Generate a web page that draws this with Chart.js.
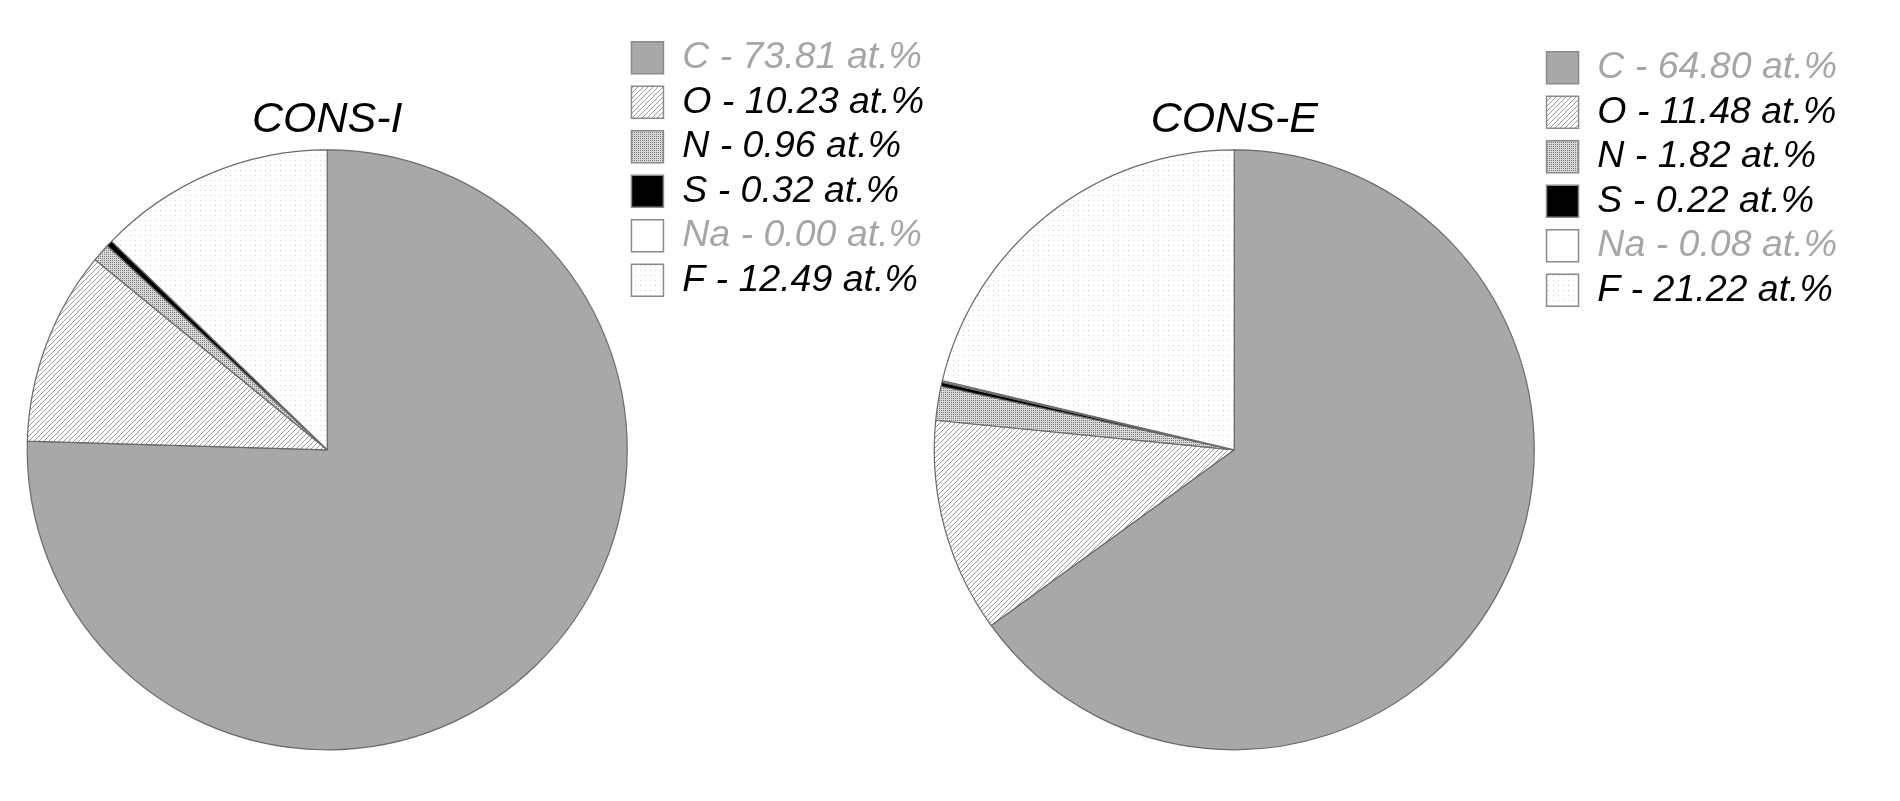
<!DOCTYPE html>
<html>
<head>
<meta charset="utf-8">
<script src="https://cdn.jsdelivr.net/npm/chart.js@4.4.1/dist/chart.umd.min.js"></script>
<style>
  html, body { margin: 0; padding: 0; background: #fff; }
  body { width: 1900px; height: 801px; position: relative; overflow: hidden; }
  .box { position: absolute; top: 0; height: 801px; }
  #box-i { left: 0; width: 934px; }
  #box-e { left: 913px; width: 934px; }
</style>
</head>
<body>
<div class="box" id="box-i"><canvas id="chart-i"></canvas></div>
<div class="box" id="box-e"><canvas id="chart-e"></canvas></div>
<script>
const elements = ['C', 'O', 'N', 'S', 'Na', 'F'];
const consI = [73.81, 10.23, 0.96, 0.32, 0.00, 12.49];
const consE = [64.80, 11.48, 1.82, 0.22, 0.08, 21.22];
const unit = 'at.%';

const FONT = "'Liberation Sans', Arial, sans-serif";
// C and Na labels are printed in grey in the original figure
const labelColors = ['#a6a6a6', '#000', '#000', '#000', '#a6a6a6', '#000'];

function makePattern(size, draw) {
    const c = document.createElement('canvas');
    c.width = size; c.height = size;
    const g = c.getContext('2d');
    draw(g, size);
    return g.createPattern(c, 'repeat');
}

const hatch = makePattern(5, (g, s) => {
    g.fillStyle = '#fff'; g.fillRect(0, 0, s, s);
    g.strokeStyle = '#9a9a9a'; g.lineWidth = 1;
    g.beginPath();
    g.moveTo(-1, s + 1); g.lineTo(s + 1, -1);
    g.moveTo(-1, 1); g.lineTo(1, -1);
    g.moveTo(s - 1, s + 1); g.lineTo(s + 1, s - 1);
    g.stroke();
});
const checker = makePattern(4, (g, s) => {
    g.fillStyle = '#d8d8d8'; g.fillRect(0, 0, s, s);
    g.fillStyle = '#7a7a7a';
    g.fillRect(0, 0, 1, 1); g.fillRect(2, 2, 1, 1);
    g.fillRect(2, 0, 1, 1); g.fillRect(0, 2, 1, 1);
});
const dots = makePattern(5, (g, s) => {
    g.fillStyle = '#fff'; g.fillRect(0, 0, s, s);
    g.fillStyle = '#d4d4d4';
    g.fillRect(0, 0, 1, 1);
});

const fills = ['#a8a8a8', hatch, checker, '#000', '#fff', dots];

function buildPie(canvasId, title, values, pad, titlePad) {
    return new Chart(document.getElementById(canvasId), {
        type: 'pie',
        data: {
            labels: elements,
            datasets: [{
                data: values,
                backgroundColor: fills,
                borderColor: '#6a6a6a',
                borderWidth: 1.2,
                radius: 300
            }]
        },
        options: {
            responsive: true,
            maintainAspectRatio: false,
            animation: false,
            layout: { padding: pad },
            plugins: {
                tooltip: { enabled: false },
                title: {
                    display: true,
                    text: title,
                    fullSize: false,
                    color: '#000',
                    font: { family: FONT, size: 43, style: 'italic', weight: 'normal', lineHeight: 1.2 },
                    padding: titlePad
                },
                legend: {
                    position: 'right',
                    align: 'start',
                    labels: {
                        boxWidth: 32,
                        boxHeight: 32,
                        padding: 7,
                        font: { family: FONT, size: 37.5, style: 'italic' },
                        generateLabels(chart) {
                            const ds = chart.data.datasets[0];
                            return chart.data.labels.map((el, i) => ({
                                text: el + ' - ' + ds.data[i].toFixed(2) + ' ' + unit,
                                fillStyle: ds.backgroundColor[i],
                                strokeStyle: '#8a8a8a',
                                lineWidth: 1.5,
                                fontColor: labelColors[i],
                                hidden: false,
                                index: i
                            }));
                        }
                    }
                }
            }
        }
    });
}

buildPie('chart-i', 'CONS-I', consI, { left: 30, top: 32, bottom: 53, right: 0 }, { top: 62, bottom: 6 });
buildPie('chart-e', 'CONS-E', consE, { left: 16, top: 42, bottom: 53, right: 0 }, { top: 52, bottom: 6 });
</script>
</body>
</html>
